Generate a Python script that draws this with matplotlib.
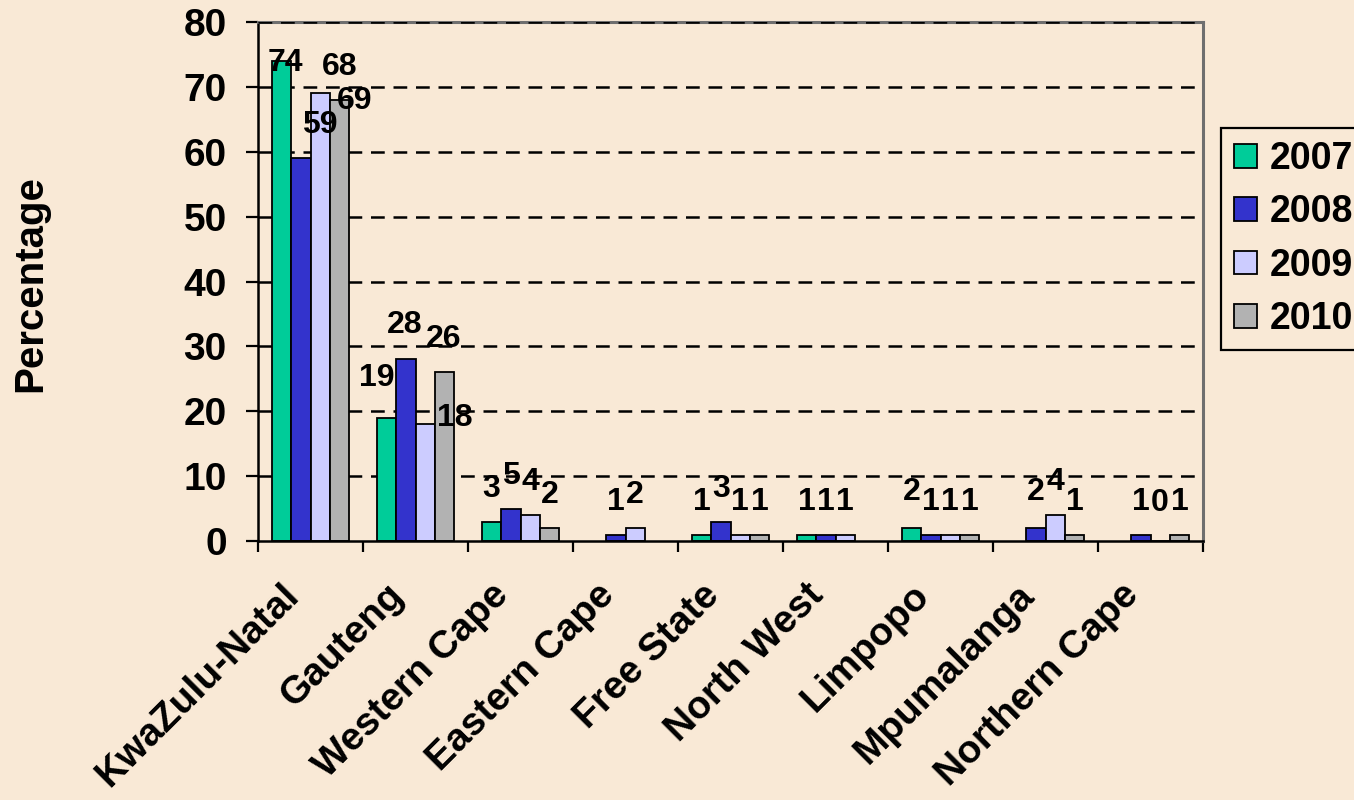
import numpy as np
import matplotlib
matplotlib.use("Agg")
import matplotlib.pyplot as plt
from matplotlib.transforms import ScaledTranslation

plt.rcParams['font.family'] = ['Liberation Sans', 'DejaVu Sans']
plt.rcParams['font.weight'] = 'bold'

provinces = ["KwaZulu-Natal", "Gauteng", "Western Cape", "Eastern Cape",
             "Free State", "North West", "Limpopo", "Mpumalanga", "Northern Cape"]
years = ["2007", "2008", "2009", "2010"]
nan = np.nan
pct_2007 = [74, 19, 3, nan, 1, 1, 2, nan, nan]
pct_2008 = [59, 28, 5, 1, 3, 1, 1, 2, 1]
pct_2009 = [69, 18, 4, 2, 1, 1, 1, 4, 0]
pct_2010 = [68, 26, 2, nan, 1, nan, 1, 1, 1]
series = [pct_2007, pct_2008, pct_2009, pct_2010]
y_ticks = [0, 10, 20, 30, 40, 50, 60, 70, 80]

colors = ["#00CC99", "#3333CC", "#CCCCFF", "#B2B2B2"]
bg = "#F9E9D6"

# label placement (pixel offsets from the bar top); default is centred above
default_offset = (0, 33)
label_offsets = {
    (0, 0): (4, -2), (0, 1): (19, 33), (0, 2): (34, -8), (0, 3): (0, 33),
    (1, 0): (-10, 40), (1, 1): (-1, 34), (1, 2): (30, 6), (1, 3): (-1, 33),
    (6, 0): (0, 36), (7, 1): (0, 36), (8, 2): (0, 38),
}

fig = plt.figure(figsize=(13.54, 8.0), dpi=100, facecolor=bg)
ax = fig.add_axes([258 / 1354, 1 - 541 / 800, (1203 - 258) / 1354, (541 - 22) / 800])
ax.set_facecolor(bg)

x = np.arange(len(provinces))
width = 0.184
bars = []
for i, (vals, col, yr) in enumerate(zip(series, colors, years)):
    pos = x + (i - 1.5) * width
    b = ax.bar(pos, vals, width, color=col, edgecolor="black", linewidth=1.3,
               label=yr, zorder=2)
    bars.append(b)
    for j, v in enumerate(vals):
        if np.isnan(v):
            continue
        dx, dy = label_offsets.get((j, i), default_offset)
        ax.annotate(f"{v:g}", xy=(pos[j], v), xytext=(dx, dy),
                    textcoords="offset pixels", ha="center", va="center",
                    fontsize=23, fontweight="bold", color="black", zorder=5)

ax.set_xlim(-0.5, len(provinces) - 0.5)
ax.set_ylim(0, 80)
ax.set_yticks(y_ticks)
ax.set_yticklabels([str(t) for t in y_ticks], fontsize=28, fontweight="bold")
ax.tick_params(axis="y", direction="out", length=9, width=1.6, pad=13.5)

# dashed horizontal gridlines
for t in y_ticks[1:]:
    ax.axhline(t, color="black", linewidth=1.8, linestyle=(0, (5.5, 3.5)),
               zorder=3 if t == 80 else 0.5)

ax.set_xticks(x)
ax.set_xticklabels(provinces, rotation=45, ha="right", va="center",
                   rotation_mode="anchor", fontsize=28, fontweight="bold")
ax.tick_params(axis="x", which="major", length=0, pad=38)
shift = ScaledTranslation(-17 / 100, 4 / 100, fig.dpi_scale_trans)
for lbl in ax.get_xticklabels():
    lbl.set_transform(lbl.get_transform() + shift)
ax.set_xticks(np.arange(-0.5, len(provinces)), minor=True)
ax.tick_params(axis="x", which="minor", direction="out", length=8, width=1.6)

for side in ("left", "bottom"):
    ax.spines[side].set_color("black")
    ax.spines[side].set_linewidth(1.8)
for side in ("top", "right"):
    ax.spines[side].set_color("#6f6f6f")
    ax.spines[side].set_linewidth(2.2)

fig.text(30 / 1354, 1 - 284 / 800, "Percentage", rotation=90, ha="center",
         va="center", fontsize=29, fontweight="bold")

leg = fig.legend(handles=bars, labels=years, loc="upper left",
                 bbox_to_anchor=(1221 / 1354, 1 - 128 / 800), frameon=True,
                 fancybox=False, edgecolor="black", facecolor=bg, framealpha=1,
                 prop={"size": 27, "weight": "bold"}, handlelength=0.6,
                 handleheight=0.6, handletextpad=0.35, labelspacing=0.46,
                 borderpad=0.35, borderaxespad=0)
leg.get_frame().set_linewidth(1.6)

fig.savefig("out.png", dpi=100, facecolor=bg)
